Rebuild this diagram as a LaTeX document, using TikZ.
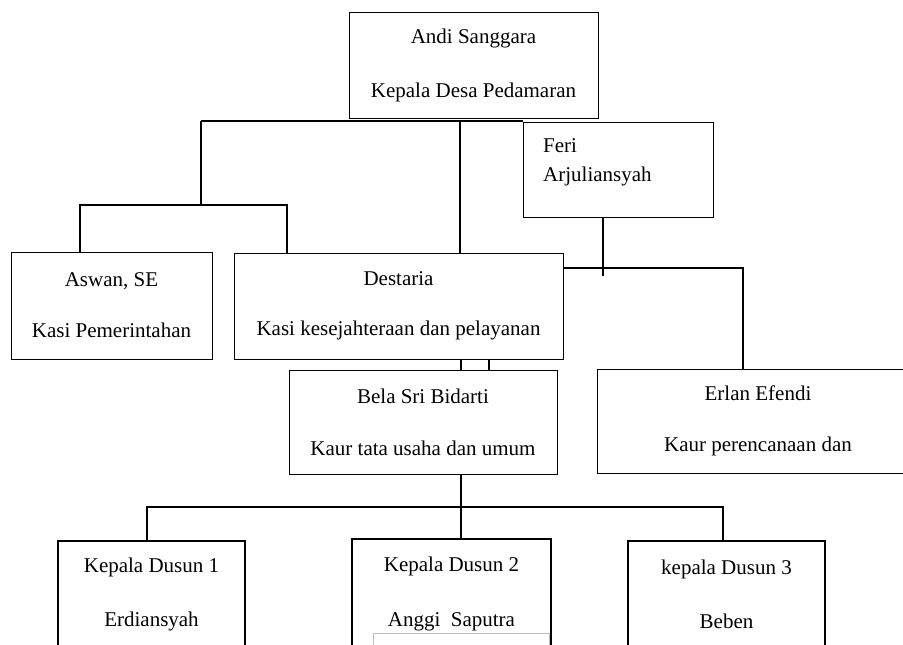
\documentclass[tikz,border=0pt]{standalone}
\usepackage{fontspec}
\setmainfont{Liberation Serif}
\usepackage{tikz}

\begin{document}
\begin{tikzpicture}[x=1pt, y=-1pt,
    font=\fontsize{21}{25}\selectfont,
    box/.style={draw, line width=1pt, align=center, inner sep=0pt},
    dusunbox/.style={box, line width=2pt},
    link/.style={line width=2.7pt}]
    \useasboundingbox (0,0) rectangle (903,645);
    \clip (0,0) rectangle (903,645);
    \node[box, minimum width=249pt, minimum height=106pt] (kades) at (473.5,65) {Andi Sanggara\\[29pt]Kepala Desa Pedamaran};
    \node[box, minimum width=190pt, minimum height=95pt] (feri) at (618,170) {};
    \node[anchor=north west, align=left, inner sep=0pt] (feritext) at (543,138) {Feri\\[4pt]Arjuliansyah};
    \node[box, minimum width=201pt, minimum height=107pt] (aswan) at (111.5,305.5) {Aswan, SE\\[26pt]Kasi Pemerintahan};
    \node[box, minimum width=329pt, minimum height=106pt] (destaria) at (398.5,306) {Destaria\\[25pt]Kasi kesejahteraan dan pelayanan};
    \node[box, minimum width=268pt, minimum height=104pt] (bela) at (423,422) {Bela Sri Bidarti\\[27pt]Kaur tata usaha dan umum};
    \node[box, minimum width=322pt, minimum height=104pt] (erlan) at (758,421) {Erlan Efendi\\[26pt]Kaur perencanaan dan};
    \node[dusunbox, minimum width=187pt, minimum height=107pt] (dusun1) at (151.5,594.5) {Kepala Dusun 1\\[29pt]Erdiansyah};
    \node[dusunbox, minimum width=199pt, minimum height=110pt] (dusun2) at (451.5,594) {Kepala Dusun 2\\[30pt]Anggi~ Saputra};
    \node[dusunbox, minimum width=197pt, minimum height=107pt] (dusun3) at (726.5,594.5) {kepala Dusun 3\\[29pt]Beben};
    \draw[gray!50, line width=0.8pt] (373,633) rectangle (549,660);
    \coordinate (topL) at (201,121);
    \coordinate (topM) at (460,121);
    \coordinate (kasiL) at (80,205);
    \coordinate (kasiR) at (287,205);
    \coordinate (feriJ) at (603,268);
    \coordinate (erlanJ) at (743,268);
    \coordinate (belaA) at (461,365);
    \coordinate (belaB) at (489,365);
    \coordinate (dusL) at (147,507);
    \coordinate (dusM) at (461,507);
    \coordinate (dusR) at (723,507);
    \draw[link] (topL) -- (topL -| feri.west);
    \draw[link] (topM) -- (topM |- destaria.north);
    \draw[link] (topL) -- (kasiL -| topL);
    \draw[link] (kasiL |- aswan.north) -- (kasiL) -- (kasiR) -- (kasiR |- destaria.north);
    \draw[link] (feriJ |- feri.south) -- ([yshift=-8pt]feriJ);
    \draw[link] (destaria.east |- erlanJ) -- (erlanJ) -- (erlanJ |- erlan.north);
    \draw[link] (belaA |- destaria.south) -- (belaA |- bela.north);
    \draw[link] (belaB |- destaria.south) -- (belaB |- bela.north);
    \draw[link] (dusM |- bela.south) -- (dusM);
    \draw[link] (dusL |- dusun1.north) -- (dusL) -- (dusR) -- (dusR |- dusun3.north);
    \draw[link] (dusM) -- (dusM |- dusun2.north);
\end{tikzpicture}
\end{document}
